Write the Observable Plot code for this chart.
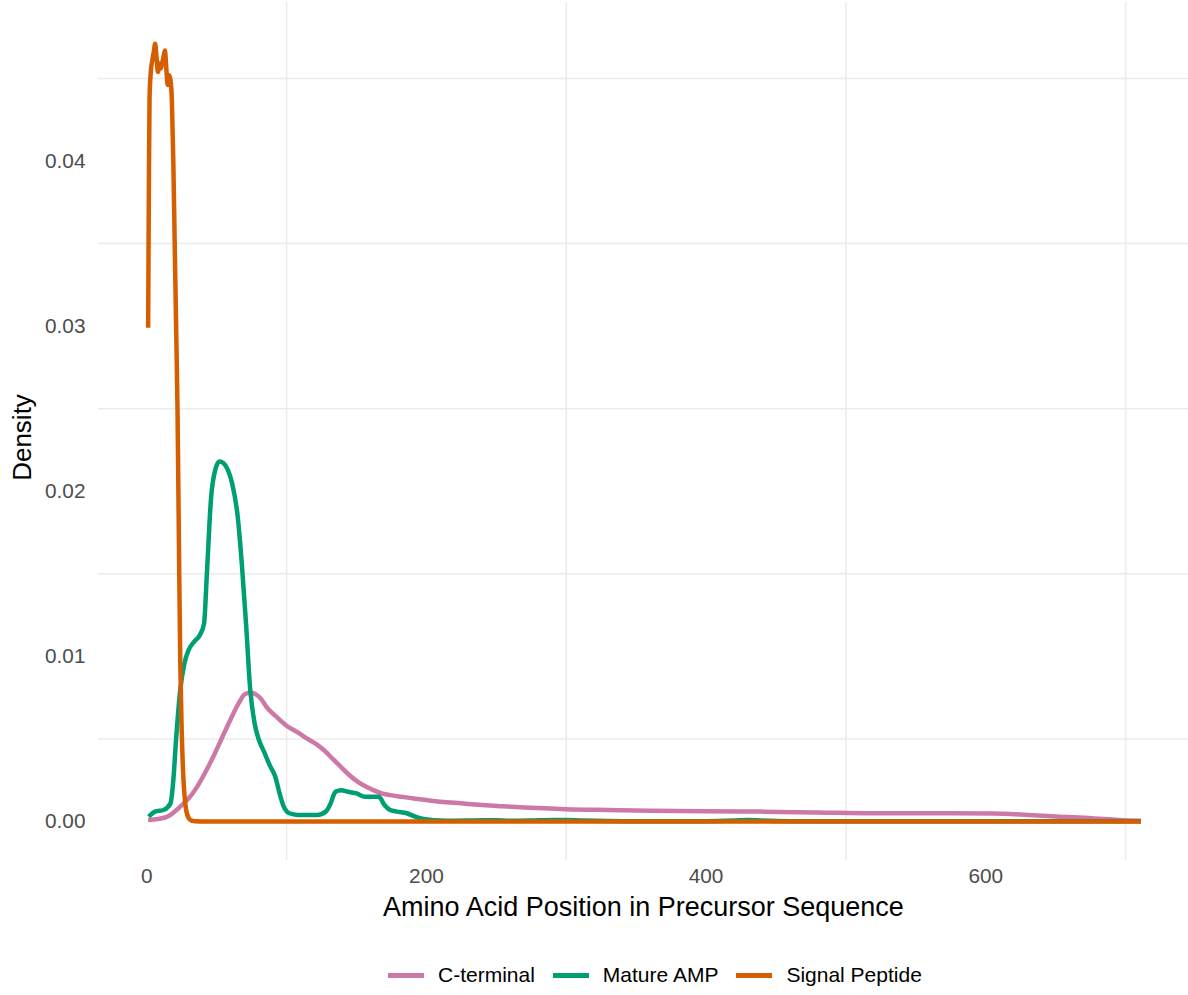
<!DOCTYPE html>
<html><head><meta charset="utf-8">
<script src="https://cdn.jsdelivr.net/npm/d3@7"></script>
<script src="https://cdn.jsdelivr.net/npm/@observablehq/plot@0.6"></script>
<style>
body{margin:0;background:#fff;font-family:"Liberation Sans",Arial,sans-serif;}
#legend{height:40px;display:flex;align-items:center;padding-left:388px;font-size:21px;color:#000}
.item{display:flex;align-items:center;margin-right:18px}
.key{width:36px;height:5px;margin-right:14px}
</style></head><body>
<div id="chart"></div>
<div id="legend"></div>
<script>
const seriesNames = ["C-terminal", "Mature AMP", "Signal Peptide"];
const seriesColors = ["#CC79A7", "#009E73", "#D55E00"];

const cterminalX = [1, 8, 15, 20, 24, 30, 36, 42, 48, 54, 60, 66, 70, 74, 78, 82, 86, 92, 100, 108, 115, 121, 127, 133, 139, 145, 151, 157, 162, 168, 174, 182, 191, 200, 210, 225, 240, 253, 270, 285, 300, 330, 360, 400, 439, 480, 520, 560, 605, 630, 650, 676, 695, 711];
const cterminalY = [0.0001, 0.00015, 0.0003, 0.0006, 0.0009, 0.0014, 0.0021, 0.0030, 0.0040, 0.0051, 0.0062, 0.0072, 0.0077, 0.0078, 0.0077, 0.0074, 0.0069, 0.0064, 0.0058, 0.0054, 0.0050, 0.0047, 0.0043, 0.0038, 0.0033, 0.0028, 0.0024, 0.0021, 0.0019, 0.0017, 0.0016, 0.0015, 0.0014, 0.0013, 0.0012, 0.0011, 0.0010, 0.00093, 0.00085, 0.0008, 0.00075, 0.0007, 0.00066, 0.00062, 0.0006, 0.00055, 0.0005, 0.0005, 0.00048, 0.0004, 0.0003, 0.0002, 0.0001, 0.00005];

const matureX = [1.4, 6, 12, 17, 19, 21, 24, 27, 30, 34, 38, 41, 43, 46, 49, 52, 55, 58, 61, 65, 68, 71, 74, 77, 80, 84, 88, 92, 95, 98, 102, 108, 115, 122, 128, 131, 135, 139, 144, 150, 156, 162, 166, 170, 174, 179, 186, 192, 198, 205, 215, 230, 240, 250, 262, 275, 290, 300, 312, 330, 360, 400, 420, 430, 440, 460, 500, 550, 600, 650, 711];
const matureY = [0.0003, 0.0006, 0.0007, 0.0011, 0.0025, 0.0050, 0.0080, 0.0096, 0.0104, 0.0109, 0.0113, 0.0120, 0.0150, 0.0196, 0.0213, 0.0218, 0.0217, 0.0213, 0.0205, 0.0185, 0.0156, 0.0120, 0.0080, 0.0060, 0.0050, 0.0042, 0.0034, 0.0027, 0.0017, 0.0009, 0.0005, 0.0004, 0.0004, 0.0004, 0.0006, 0.0010, 0.0018, 0.0019, 0.0018, 0.0017, 0.0015, 0.0015, 0.0015, 0.0010, 0.0007, 0.0006, 0.0005, 0.0003, 0.00015, 0.00008, 0.00005, 0.00006, 0.00008, 0.00007, 0.00004, 0.00006, 0.0001, 0.0001, 0.00006, 0.00003, 0.00002, 0.00002, 0.00006, 0.0001, 0.00006, 0.00002, 0.00001, 0.00001, 0.00001, 0.00001, 0.00001];

const signalX = [1, 1.5, 2, 3, 4, 5, 6, 7, 8, 9, 10, 11, 12, 13, 14, 15, 16, 17, 18, 19, 20, 21, 22, 23, 24, 25, 26, 27, 28, 30, 32, 35, 40, 100, 200, 300, 400, 500, 600, 711];
const signalY = [0.0299, 0.038, 0.0438, 0.0455, 0.0461, 0.0466, 0.0471, 0.0463, 0.0454, 0.0459, 0.0456, 0.0459, 0.0463, 0.0467, 0.0456, 0.0446, 0.0452, 0.0449, 0.0436, 0.0400, 0.0350, 0.0300, 0.0250, 0.0170, 0.0095, 0.0055, 0.0030, 0.0016, 0.0008, 0.0002, 0.00005, 0.00001, 0, 0, 0, 0, 0, 0, 0, 0];

const xTicks = [0, 200, 400, 600];
const xMinor = [100, 300, 500, 700];
const yTicks = [0, 0.01, 0.02, 0.03, 0.04];
const yMinor = [0.005, 0.015, 0.025, 0.035, 0.045];
const xTitle = "Amino Acid Position in Precursor Sequence";
const yTitle = "Density";

const seriesX = [cterminalX, matureX, signalX];
const seriesY = [cterminalY, matureY, signalY];
const rows = seriesNames.flatMap((s, i) => seriesX[i].map((x, j) => ({series: s, x, y: seriesY[i][j]})));

const chart = Plot.plot({
  width: 1188, height: 955,
  marginLeft: 98, marginRight: 0, marginTop: 2, marginBottom: 95,
  style: {fontFamily: "Liberation Sans, Arial, sans-serif", background: "#fff"},
  x: {domain: [-34.5, 745]},
  y: {domain: [-0.00236, 0.0496]},
  color: {domain: seriesNames, range: seriesColors},
  marks: [
    Plot.gridX(xMinor, {stroke: "#EBEBEB", strokeOpacity: 1, strokeWidth: 1.5}),
    Plot.gridY(yMinor, {stroke: "#EBEBEB", strokeOpacity: 1, strokeWidth: 1.5}),
    Plot.axisX(xTicks, {tickSize: 0, tickPadding: 8, fontSize: 20.8, color: "#4D4D4D", label: null, tickFormat: d => String(d)}),
    Plot.axisY(yTicks, {tickSize: 0, tickPadding: 13, fontSize: 20.8, color: "#4D4D4D", label: null, tickFormat: d => d.toFixed(2)}),
    Plot.line(rows, {x: "x", y: "y", z: "series", stroke: "series", strokeWidth: 4.5, curve: "monotone-x", strokeLinejoin: "round", strokeLinecap: "butt"}),
    Plot.text([xTitle], {text: d => d, frameAnchor: "bottom", lineAnchor: "middle", textAnchor: "middle", dy: 47, fontSize: 27, fill: "#000"}),
    Plot.text([yTitle], {text: d => d, frameAnchor: "left", lineAnchor: "middle", textAnchor: "middle", dx: -76, dy: 6, rotate: -90, fontSize: 26, fill: "#000"})
  ]
});
document.getElementById("chart").appendChild(chart);

const legend = document.getElementById("legend");
seriesNames.forEach((name, i) => {
  const item = document.createElement("div");
  item.className = "item";
  const key = document.createElement("div");
  key.className = "key";
  key.style.background = seriesColors[i];
  const label = document.createElement("span");
  label.textContent = name;
  item.appendChild(key);
  item.appendChild(label);
  legend.appendChild(item);
});
</script></body></html>
